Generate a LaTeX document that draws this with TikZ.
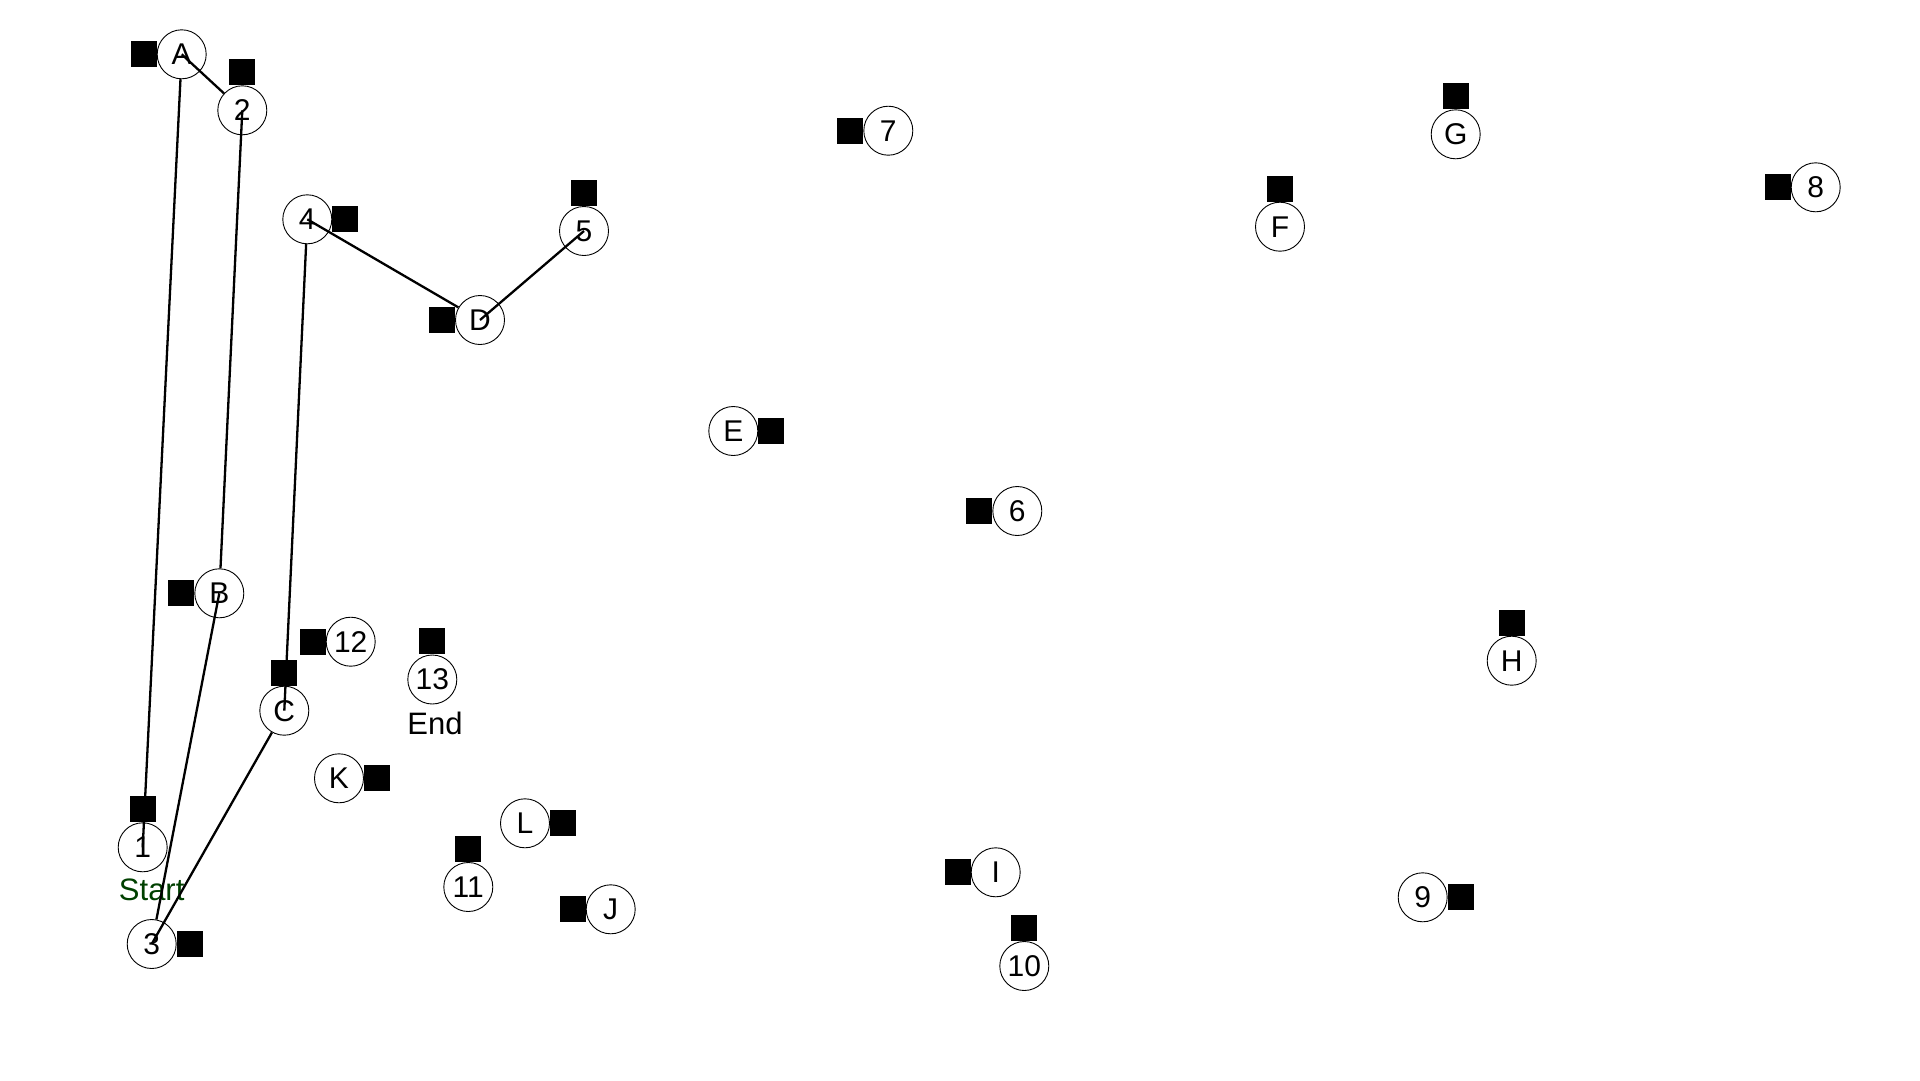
\documentclass[tikz,border=0pt]{standalone}
\usepackage{fontspec}
\setmainfont{Liberation Sans}
\definecolor{startgreen}{RGB}{0,64,0}
\tikzset{
  vtx/.style={circle, draw=black, line width=0.9pt, minimum size=49pt, inner sep=0pt,
              font=\fontsize{30}{34}\selectfont},
  sq/.style={rectangle, fill=black, minimum size=26pt, inner sep=0pt},
  edge/.style={line width=2.3pt, black},
  lbl/.style={inner sep=0pt, font=\fontsize{31}{35}\selectfont}
}
\begin{document}
\begin{tikzpicture}[x=1pt,y=-1pt]
\useasboundingbox (0,0) rectangle (1920,1080);
% nodes
\node[vtx] (A)  at (181.7,54.3) {A};
\node[vtx] (n2) at (242.3,110.3) {2};
\node[vtx] (n4) at (307.3,219.3) {4};
\node[vtx] (n5) at (584,231) {5};
\node[vtx] (D)  at (480,320) {D};
\node[vtx] (n7) at (888.3,130.7) {7};
\node[vtx] (E)  at (733.3,431) {E};
\node[vtx] (n6) at (1017.3,511) {6};
\node[vtx] (F)  at (1280,226.7) {F};
\node[vtx] (G)  at (1455.7,134.3) {G};
\node[vtx] (n8) at (1815.7,187.3) {8};
\node[vtx] (B)  at (219.3,593.3) {B};
\node[vtx] (n12) at (350.7,641.7) {12};
\node[vtx] (n13) at (432.3,679.5) {13};
\node[vtx] (C)  at (284.3,710.7) {C};
\node[vtx] (K)  at (339,778.3) {K};
\node[vtx] (n1) at (142.7,847.3) {1};
\node[vtx] (n3) at (151.7,944) {3};
\node[vtx] (n11) at (468.3,887) {11};
\node[vtx] (L)  at (525,823.3) {L};
\node[vtx] (J)  at (610.7,909.3) {J};
\node[vtx] (I)  at (995.7,872.3) {I};
\node[vtx] (n10) at (1024.3,966) {10};
\node[vtx] (H)  at (1511.7,660.7) {H};
\node[vtx] (n9) at (1422.7,897.3) {9};
% squares
\node[sq, anchor=east]  (sA)  at (A.west) {};
\node[sq, anchor=south] (s2)  at (n2.north) {};
\node[sq, anchor=west]  (s4)  at (n4.east) {};
\node[sq, anchor=south] (s5)  at (n5.north) {};
\node[sq, anchor=east]  (sD)  at (D.west) {};
\node[sq, anchor=east]  (s7)  at (n7.west) {};
\node[sq, anchor=west]  (sE)  at (E.east) {};
\node[sq, anchor=east]  (s6)  at (n6.west) {};
\node[sq, anchor=south] (sF)  at (F.north) {};
\node[sq, anchor=south] (sG)  at (G.north) {};
\node[sq, anchor=east]  (s8)  at (n8.west) {};
\node[sq, anchor=east]  (sB)  at (B.west) {};
\node[sq, anchor=east]  (s12) at (n12.west) {};
\node[sq, anchor=south] (s13) at (n13.north) {};
\node[sq, anchor=south] (sC)  at (C.north) {};
\node[sq, anchor=west]  (sK)  at (K.east) {};
\node[sq, anchor=south] (s1)  at (n1.north) {};
\node[sq, anchor=west]  (s3)  at (n3.east) {};
\node[sq, anchor=south] (s11) at (n11.north) {};
\node[sq, anchor=west]  (sL)  at (L.east) {};
\node[sq, anchor=east]  (sJ)  at (J.west) {};
\node[sq, anchor=east]  (sI)  at (I.west) {};
\node[sq, anchor=south] (s10) at (n10.north) {};
\node[sq, anchor=south] (sH)  at (H.north) {};
\node[sq, anchor=west]  (s9)  at (n9.east) {};
% labels
\node[lbl, text=startgreen] (start) at (151.7,890) {Start};
\node[lbl] (end) at (435,723.3) {End};
% edges
\draw[edge] (A.center) -- (n2);
\draw[edge] (A) -- (n1.center);
\draw[edge] (n2.center) -- (B);
\draw[edge] (B.center) -- (n3);
\draw[edge] (C) -- (n3.center);
\draw[edge] (n4) -- (C.center);
\draw[edge] (n4.center) -- (D);
\draw[edge] (D.center) -- (n5.center);
\end{tikzpicture}
\end{document}
